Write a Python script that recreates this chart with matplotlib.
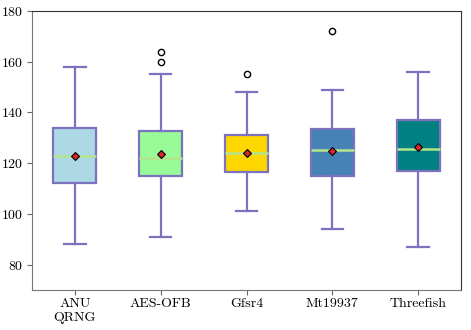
import matplotlib
matplotlib.use("Agg")
import matplotlib.pyplot as plt

plt.rcParams['font.family'] = ['cmr10', 'DejaVu Serif']
plt.rcParams['axes.formatter.use_mathtext'] = True
plt.rcParams['mathtext.fontset'] = 'cm'

categories = ["ANU\nQRNG", "AES-OFB", "Gfsr4", "Mt19937", "Threefish"]
whislo = [88, 91, 101, 94, 87]
q1 = [112, 115, 116.5, 115, 117]
med = [122.7, 122.2, 124, 125.3, 125.5]
q3 = [134, 132.5, 131, 133.5, 137]
whishi = [158, 155, 148, 149, 156]
means = [123, 123.5, 124.2, 124.7, 126.5]
fliers = [[], [160, 164], [155], [172], []]
box_colors = ["lightblue", "palegreen", "gold", "steelblue", "teal"]

stats = []
for i, c in enumerate(categories):
    stats.append(dict(label=c, whislo=whislo[i], q1=q1[i], med=med[i], q3=q3[i],
                      whishi=whishi[i], mean=means[i], fliers=fliers[i]))

fig = plt.figure(figsize=(4.71, 3.30), dpi=100)
ax = fig.add_axes([32/471, 40/330, (461-32)/471, (290-11)/330])

edge = "#7b72c0"
bp = ax.bxp(stats, showmeans=True, patch_artist=True, widths=0.5,
            boxprops=dict(edgecolor=edge, linewidth=1.6),
            whiskerprops=dict(color=edge, linewidth=1.6),
            capprops=dict(color=edge, linewidth=1.6),
            medianprops=dict(color="#b5e48c", linewidth=1.8),
            meanprops=dict(marker="D", markerfacecolor="#d62728", markeredgecolor="black",
                           markersize=3.8, markeredgewidth=0.8),
            flierprops=dict(marker="o", markerfacecolor="white", markeredgecolor="black",
                            markersize=4.5, markeredgewidth=1.0))
for patch, col in zip(bp['boxes'], box_colors):
    patch.set_facecolor(col)

ax.set_xlim(0.5, 5.5)
ax.set_ylim(70, 180)
ax.set_yticks([80, 100, 120, 140, 160, 180])
ax.tick_params(labelsize=10, color="#666666", pad=2.5)
for s in ['left', 'bottom']:
    ax.spines[s].set_color("#777777")
for s in ['top', 'right']:
    ax.spines[s].set_color("#333333")

fig.savefig("out.png", dpi=100)
